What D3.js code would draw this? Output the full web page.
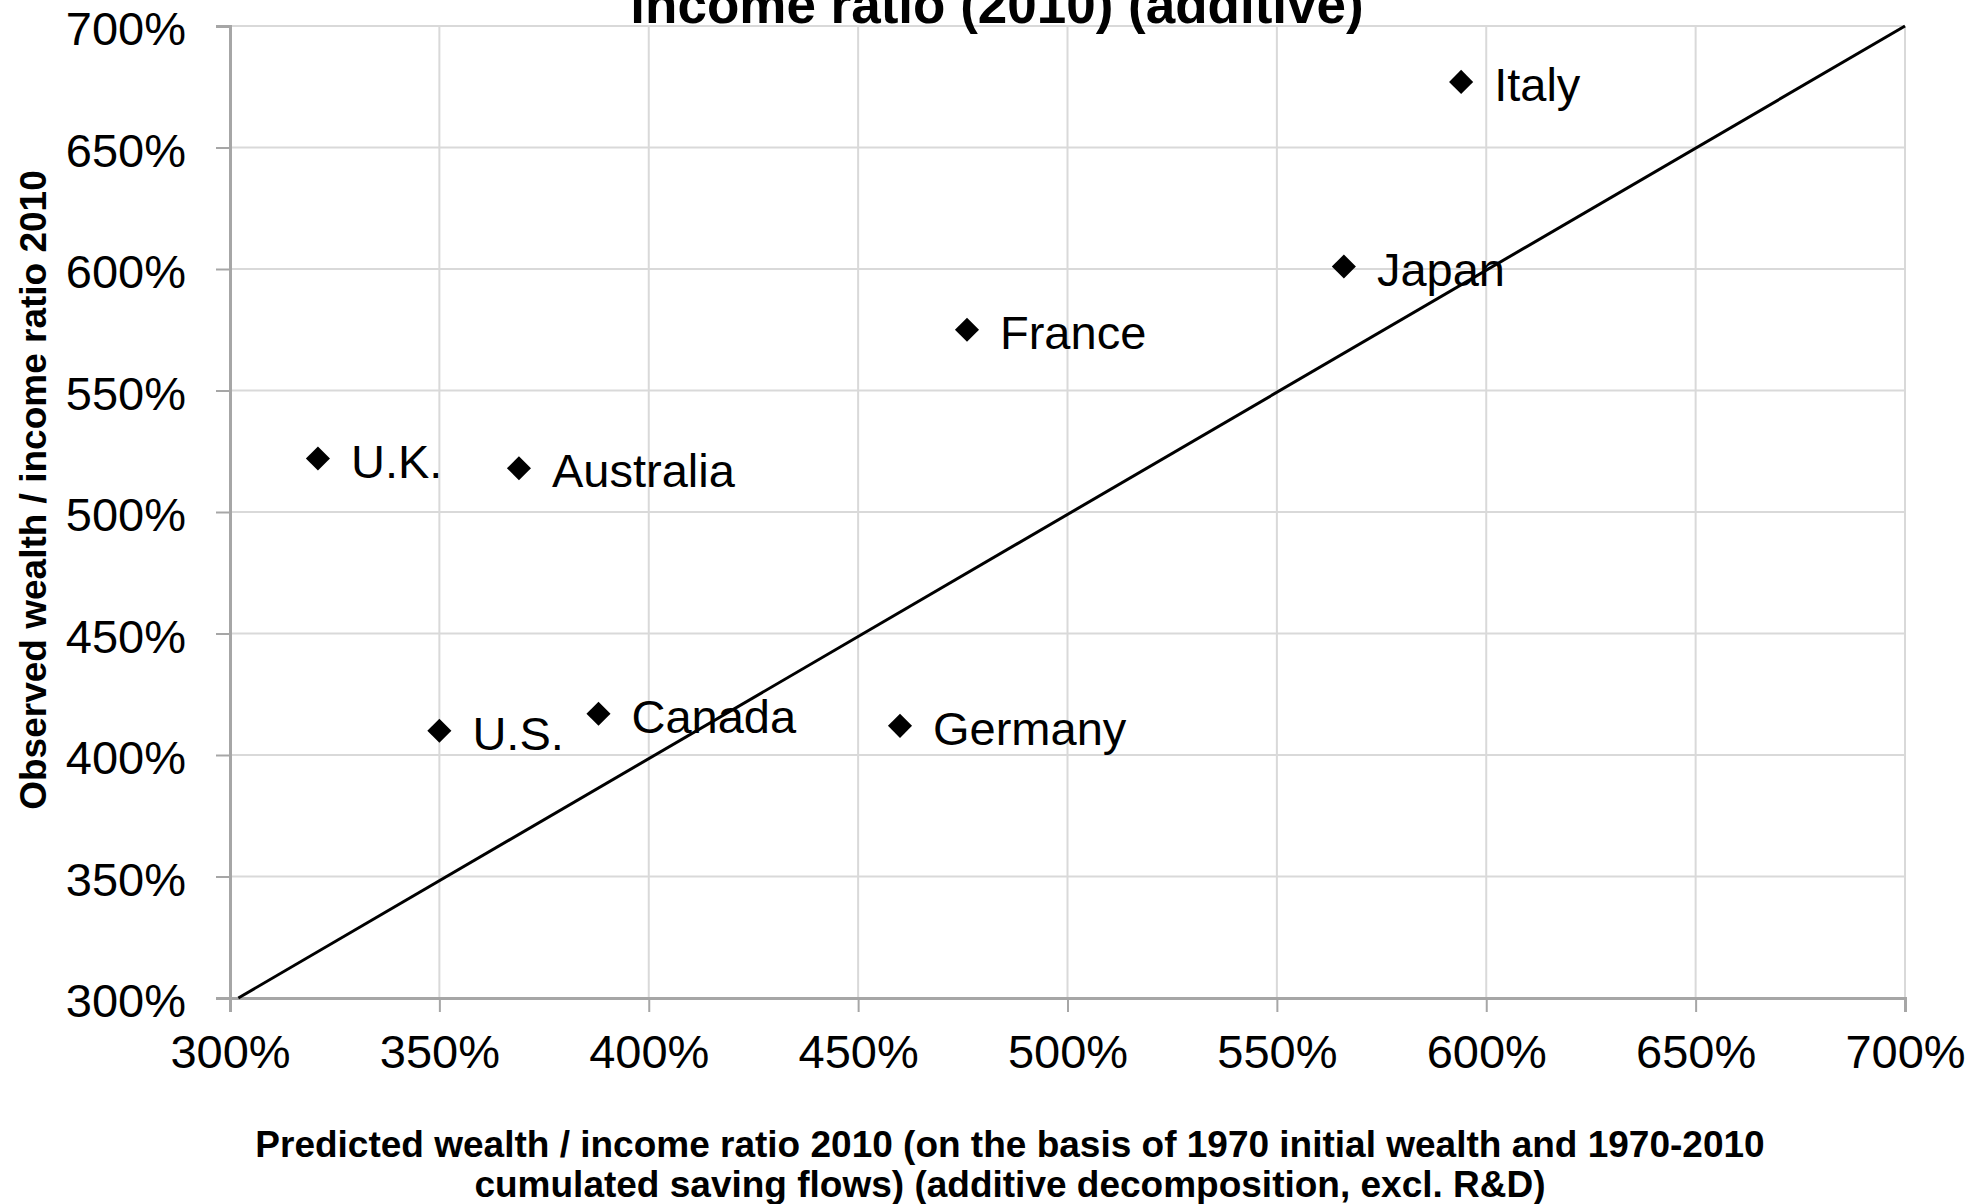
<!DOCTYPE html>
<html>
<head>
<meta charset="utf-8">
<script src="https://cdn.jsdelivr.net/npm/d3@7"></script>
<style>
  body { margin: 0; background: #fff; }
  text { font-family: "Liberation Sans", Arial, sans-serif; }
</style>
</head>
<body>
<div id="chart"></div>
<script>

// data (values in %)
var countries = ['U.K.', 'Australia', 'U.S.', 'Canada', 'Germany', 'France', 'Japan', 'Italy'];
var predicted = [321, 369, 350, 388, 460, 476, 566, 594];
var observed  = [522, 518, 410, 417, 412, 575, 601, 677];

// 45 degree reference line
var lineX = [302, 700];
var lineY = [300, 700];

var tickValues = [300, 350, 400, 450, 500, 550, 600, 650, 700];

// set the dimensions and margins of the graph
var margin = {top: 26, right: 83, bottom: 206, left: 230},
    width = 1988 - margin.left - margin.right,
    height = 1204 - margin.top - margin.bottom;

var svg = d3.select("#chart")
    .append("svg")
    .attr("width", 1988)
    .attr("height", 1204);

var g = svg.append("g")
    .attr("transform", "translate(" + margin.left + "," + margin.top + ")");

var x = d3.scaleLinear()
    .domain([300, 700])
    .range([0, width]);

var y = d3.scaleLinear()
    .domain([300, 700])
    .range([height, 0]);

// gridlines
g.append("g")
    .selectAll("line.vgrid")
    .data(tickValues.slice(1))
    .enter()
    .append("line")
    .attr("x1", function(d) { return x(d); })
    .attr("x2", function(d) { return x(d); })
    .attr("y1", 0)
    .attr("y2", height)
    .attr("stroke", "#d9d9d9")
    .attr("stroke-width", 2);

g.append("g")
    .selectAll("line.hgrid")
    .data(tickValues.slice(1))
    .enter()
    .append("line")
    .attr("x1", 0)
    .attr("x2", width)
    .attr("y1", function(d) { return y(d); })
    .attr("y2", function(d) { return y(d); })
    .attr("stroke", "#d9d9d9")
    .attr("stroke-width", 2);

// axes
var xAxis = d3.axisBottom(x)
    .tickValues(tickValues)
    .tickSize(14)
    .tickPadding(18)
    .tickFormat(function(d) { return d + "%"; });

var yAxis = d3.axisLeft(y)
    .tickValues(tickValues)
    .tickSize(14)
    .tickPadding(30)
    .tickFormat(function(d) { return d + "%"; });

var gx = g.append("g")
    .attr("transform", "translate(0," + height + ")")
    .call(xAxis);

var gy = g.append("g")
    .call(yAxis);

[gx, gy].forEach(function(a) {
    a.select(".domain").attr("stroke", "#a6a6a6").attr("stroke-width", 3);
    a.selectAll(".tick line").attr("stroke", "#a6a6a6").attr("stroke-width", 2);
    a.selectAll(".tick text")
        .attr("fill", "#000")
        .style("font-size", "47px")
        .style("font-family", "Liberation Sans, Arial, sans-serif");
});

gx.selectAll(".tick text").attr("dy", "0.8em");
gy.selectAll(".tick text").attr("dy", "0.4em");

// reference line
g.append("path")
    .datum(d3.zip(lineX, lineY))
    .attr("fill", "none")
    .attr("stroke", "black")
    .attr("stroke-width", 3)
    .attr("d", d3.line()
        .x(function(d) { return x(d[0]); })
        .y(function(d) { return y(d[1]); })
    );

// points
var points = countries.map(function(c, i) {
    return {name: c, px: predicted[i], py: observed[i]};
});

g.selectAll(".pt")
    .data(points)
    .enter()
    .append("path")
    .attr("class", "pt")
    .attr("d", d3.symbol().type(d3.symbolSquare).size(290))
    .attr("transform", function(d) {
        return "translate(" + x(d.px) + "," + y(d.py) + ") rotate(45)";
    })
    .attr("fill", "black");

g.selectAll(".lbl")
    .data(points)
    .enter()
    .append("text")
    .attr("class", "lbl")
    .attr("x", function(d) { return x(d.px) + 33; })
    .attr("y", function(d) { return y(d.py) + 19; })
    .style("font-size", "47px")
    .attr("fill", "black")
    .text(function(d) { return d.name; });

// title (first line is cut off above the picture, as in the original)
svg.append("text")
    .attr("x", 997)
    .attr("y", 23)
    .attr("text-anchor", "middle")
    .style("font-size", "53px")
    .style("font-weight", "bold")
    .text("income ratio (2010) (additive)");

// x axis title
var xTitle = svg.append("text")
    .attr("text-anchor", "middle")
    .style("font-size", "37px")
    .style("font-weight", "bold");

xTitle.append("tspan")
    .attr("x", 1010)
    .attr("y", 1157)
    .text("Predicted wealth / income ratio 2010 (on the basis of 1970 initial wealth and 1970-2010");

xTitle.append("tspan")
    .attr("x", 1010)
    .attr("y", 1197)
    .text("cumulated saving flows) (additive decomposition, excl. R&D)");

// y axis title
svg.append("text")
    .attr("transform", "translate(46,490) rotate(-90)")
    .attr("text-anchor", "middle")
    .style("font-size", "37px")
    .style("font-weight", "bold")
    .text("Observed wealth / income ratio 2010");

</script>
</body>
</html>
